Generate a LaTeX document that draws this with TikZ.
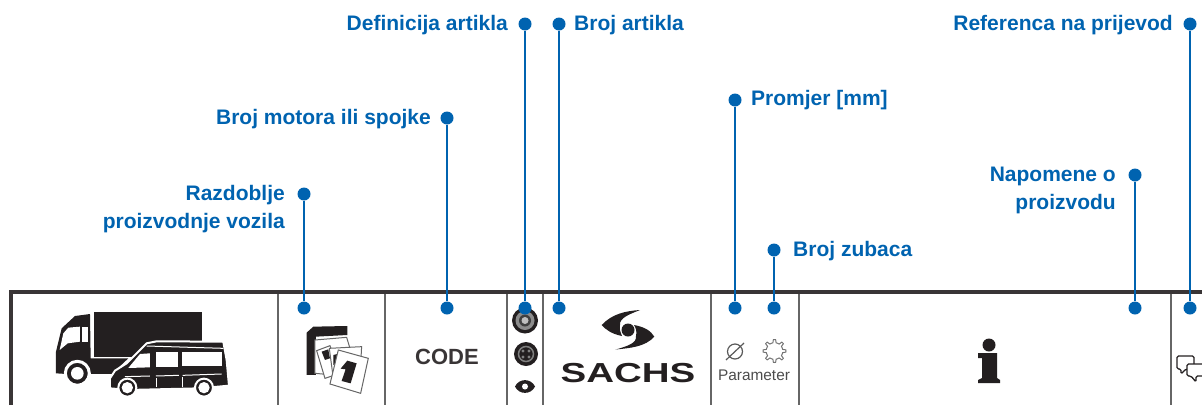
\documentclass[tikz,border=0pt]{standalone}
\usepackage{fontspec}
\setmainfont{Liberation Sans}
\definecolor{callblue}{HTML}{0063B0}
\definecolor{inkblack}{HTML}{231F20}
\tikzset{
    dot/.style={circle, fill=callblue, inner sep=0pt, minimum size=13pt},
    call/.style={callblue, line width=1.6pt},
    calltext/.style={text=callblue, font=\fontsize{21}{28}\selectfont\bfseries, inner sep=0pt, align=right},
    divider/.style={draw=black!60, line width=2pt},
    frameline/.style={draw=inkblack!90, line width=3.2pt}
}
\begin{document}
\begin{tikzpicture}[x=1pt,y=-1pt]
    \useasboundingbox (0,0) rectangle (1202,405);

    % Tabla
    \foreach \xpos in {278,385,507,543,711,799,1171}
        \draw[divider] (\xpos,292) -- (\xpos,405);
    \draw[frameline] (11,405) -- (11,292) -- (1202,292);

    % Camion
    \begin{scope}[x=0.3333pt,y=-0.3333pt,yshift=-280pt]
        \fill[inkblack] (282,97) rectangle (607,232);
        \fill[inkblack] (270,102) -- (225,108) -- (185,145) -- (168,215) -- (168,280) -- (200,282)
            -- (270,282) -- (335,282) -- (385,235) -- (272,235) -- cycle;
        \fill[white] (240,140) -- (205,143) -- (190,160) -- (179,210) -- (203,190) -- (240,185) -- cycle;
        \fill[white] (247,140) rectangle (264,185);
        \fill[inkblack,draw=white,line width=3pt] (232,280) circle (36);
        \fill[white] (232,280) circle (19);
        % Furgoneta
        \fill[inkblack,draw=white,line width=2pt] (330,325) -- (330,295) -- (345,272) -- (380,250) -- (440,190)
            -- (470,184) -- (670,185) -- (680,240) -- (687,317) -- (600,325) -- (385,330) -- cycle;
        \fill[white] (450,220) -- (420,222) -- (385,264) -- (450,262) -- cycle;
        \fill[white] (467,217) rectangle (535,260);
        \fill[white] (547,215) rectangle (666,258);
        \draw[white,line width=1pt] (440,198) -- (670,205);
        \draw[white,line width=1pt] (375,290) -- (450,288) (468,288) -- (537,286) (548,286) -- (665,282);
        \draw[white,line width=1pt] (470,295) -- (470,322) (547,292) -- (547,320);
        \fill[inkblack,draw=white,line width=2pt] (382,323) circle (27);
        \fill[white] (382,323) circle (17);
        \fill[inkblack,draw=white,line width=2pt] (612,323) circle (27);
        \fill[white] (612,323) circle (17);
    \end{scope}

    % Calendario
    \begin{scope}[x=0.3333pt,y=-0.3333pt,yshift=-280pt]
        \fill[inkblack] (920,158) -- (940,140) -- (1042,138) -- (1042,165) -- (948,170) -- (948,285) -- (920,285) -- cycle;
        \draw[black!60,fill=white,line width=1pt] (945,180) -- (1040,172) -- (1050,205) -- (1000,285) -- (945,280) -- cycle;
        \draw[black!60,fill=white,line width=1pt] (950,212) -- (990,197) -- (1020,280) -- (975,295) -- cycle;
        \fill[inkblack] (965,215) -- (985,208) -- (990,235) -- (975,240) -- cycle;
        \draw[black!60,fill=white,line width=1pt] (988,205) -- (1085,200) -- (1080,290) -- (1000,295) -- cycle;
        \fill[inkblack] (1000,225) -- (1012,222) -- (1010,250) -- (1000,255) -- cycle;
        \draw[black!60,fill=white,line width=1pt] (1015,210) -- (1105,235) -- (1082,340) -- (990,312) -- cycle;
        \fill[inkblack] (1042,242) -- (1070,250) -- (1052,310) -- (1025,303) -- (1037,268) -- (1022,266) -- cycle;
    \end{scope}

    % Codigo
    \node[font=\fontsize{22}{25}\selectfont\bfseries, text=inkblack!90, inner sep=0pt] (code) at (447,356.5) {CODE};

    % Tipos de articulo
    \fill[inkblack] (525,320.5) circle (13);
    \fill[black!45] (525,320.5) circle (9.5);
    \fill[black!75] (525,320.5) circle (6);
    \fill[black!25] (525,320.5) circle (3.5);
    \fill[inkblack] (526,354) circle (12);
    \draw[black!50, line width=1.5pt] (526,354) circle (7.5);
    \fill[black!50] (523,351) circle (1.6) (529,351) circle (1.6) (523,357) circle (1.6) (529,357) circle (1.6);
    \fill[inkblack] (515,386.5) .. controls (519,378) and (531,378) .. (535,386.5)
        .. controls (531,395) and (519,395) .. cycle;
    \fill[white] (525,386.5) circle (3);

    % Logo
    \fill[inkblack] (601.7,325) .. controls (612,314) and (625,311) .. (640,310)
        .. controls (630,314) and (619,318) .. (620,325)
        .. controls (619,330) and (621,333) .. (622,336)
        .. controls (612,334) and (606,330) .. cycle;
    \fill[inkblack] (654.3,336.7) .. controls (645,347) and (630,348) .. (615.7,349.5)
        .. controls (628,346) and (637,343) .. (636,336)
        .. controls (637,332) and (636,328) .. (634,325)
        .. controls (645,327) and (651,331) .. cycle;
    \fill[inkblack] (628,330) circle (6.5);
    \node[font=\fontsize{27.5}{30}\selectfont\bfseries, text=inkblack, inner sep=0pt, xscale=1.4] (sachs) at (628,373.5) {SACHS};

    % Parametro
    \draw[black!65, line width=1.2pt] (735,351.5) circle (7.5);
    \draw[black!65, line width=1.2pt] (726,360) -- (744,343);
    \draw[black!55, line width=1pt, line join=round] plot[samples=65, domain=0:360, variable=\ang]
        ({774.5+(9.5+2*(cos(8*\ang)>0?1:-0.6))*cos(\ang)}, {351+(9.5+2*(cos(8*\ang)>0?1:-0.6))*sin(\ang)});
    \node[font=\fontsize{15.4}{18}\selectfont, text=black!70, inner sep=0pt] (param) at (754,375) {Parameter};

    % Informacion
    \fill[inkblack] (989,345) circle (6.5);
    \fill[inkblack] (978,353) -- (997,353) -- (997,378) -- (1000,380) -- (1000,383) -- (978,383)
        -- (978,380) -- (982,378) -- (982,358) -- (978,358) -- cycle;

    % Referencia
    \draw[inkblack, line width=1.3pt, rounded corners=1.5pt] (1177,356) -- (1194,356) -- (1194,369) -- (1186,369) -- (1181,374) -- (1181,369) -- (1177,369) -- cycle;
    \draw[inkblack, line width=1.3pt, rounded corners=1.5pt, fill=white] (1202,364) -- (1187,364) -- (1187,376) -- (1191,376) -- (1196,382) -- (1196,376) -- (1202,376);

    % Puntos y lineas
    \node[dot] (periodtop) at (304,194) {};
    \node[dot] (periodbot) at (304,308) {};
    \node[dot] (engtop) at (447,118) {};
    \node[dot] (engbot) at (447,308) {};
    \node[dot] (deftop) at (525,24) {};
    \node[dot] (defbot) at (525,308) {};
    \node[dot] (numtop) at (559,24) {};
    \node[dot] (numbot) at (559,308) {};
    \node[dot] (diamtop) at (735,100) {};
    \node[dot] (diambot) at (735,308) {};
    \node[dot] (teethtop) at (774,250) {};
    \node[dot] (teethbot) at (774,308) {};
    \node[dot] (notetop) at (1135,175) {};
    \node[dot] (notebot) at (1135,308) {};
    \node[dot] (reftop) at (1190,24) {};
    \node[dot] (refbot) at (1190,308) {};
    \foreach \name in {period,eng,def,num,diam,teeth,note,ref}
        \draw[call] (\name top) -- (\name bot);

    % Etiquetas
    \node[calltext, anchor=north east] (periodlabel) at (285,185) {Razdoblje\\proizvodnje vozila};
    \node[calltext, anchor=east] (englabel) at (431,119.5) {Broj motora ili spojke};
    \node[calltext, anchor=east] (deflabel) at (508,25.5) {Definicija artikla};
    \node[calltext, anchor=west] (numlabel) at (574,25.5) {Broj artikla};
    \node[calltext, anchor=west] (diamlabel) at (751,100.5) {Promjer [mm]};
    \node[calltext, anchor=west] (teethlabel) at (793,251.5) {Broj zubaca};
    \node[calltext, anchor=north east] (notelabel) at (1116,167) {Napomene o\\proizvodu};
    \node[calltext, anchor=east] (reflabel) at (1173,25.5) {Referenca na prijevod};
\end{tikzpicture}
\end{document}
